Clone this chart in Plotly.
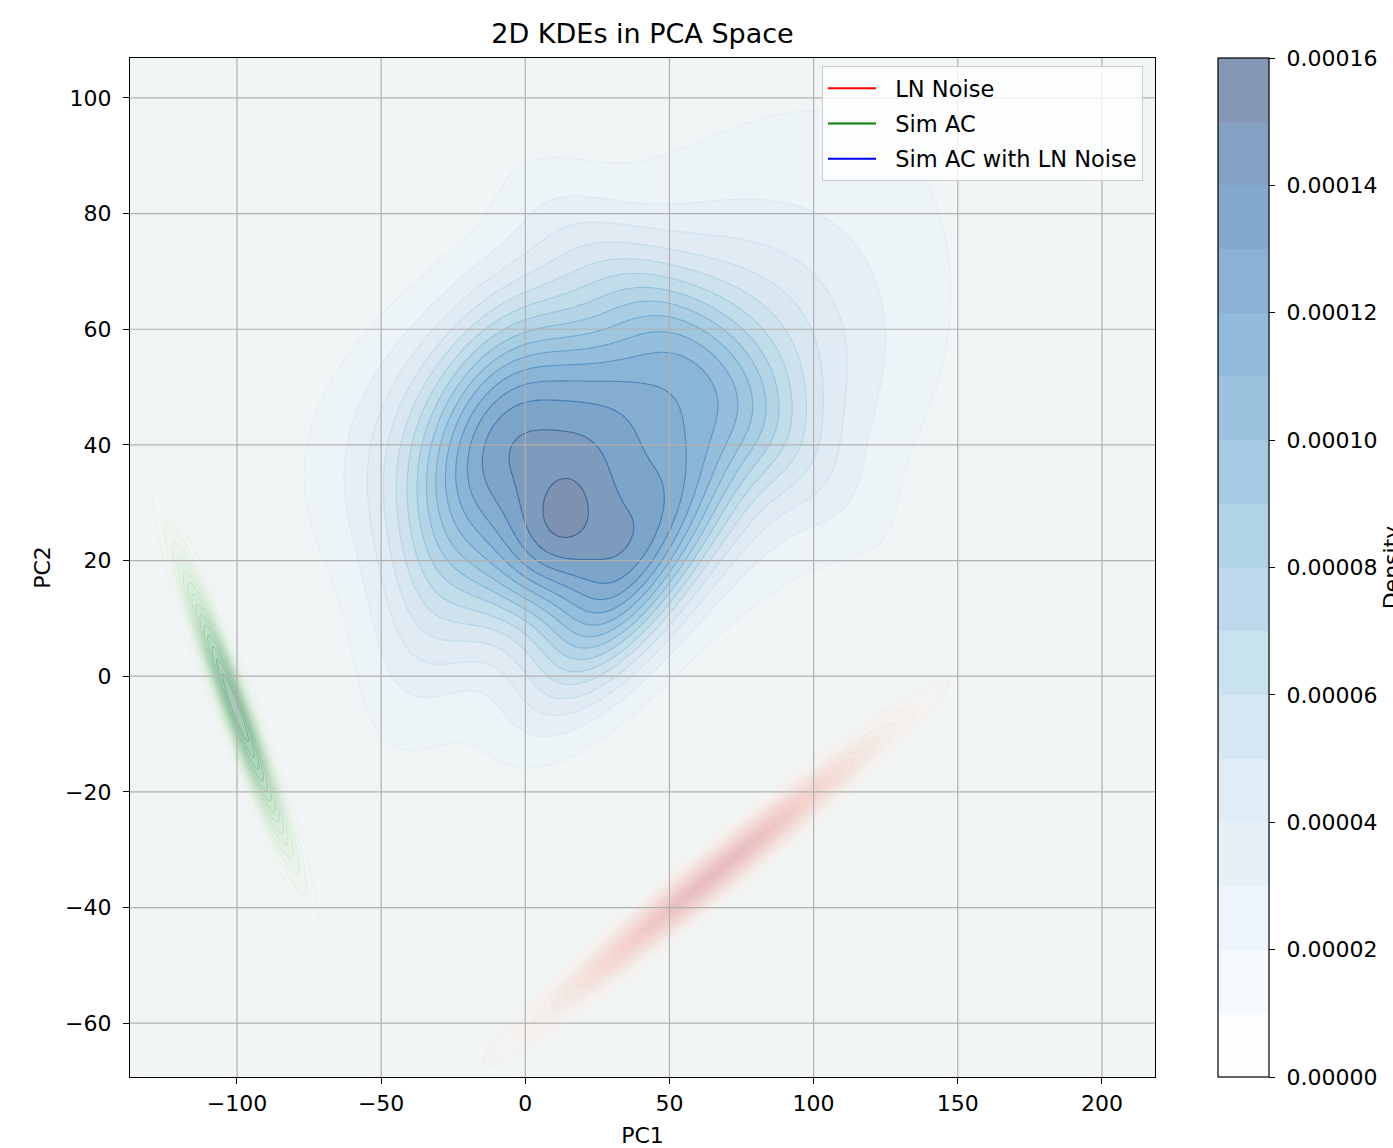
import numpy as np
import plotly.graph_objects as go

# ----------------- values -----------------
title_text = "2D KDEs in PCA Space"
x_label = "PC1"
y_label = "PC2"
cbar_label = "Density"
legend_names = ["LN Noise", "Sim AC", "Sim AC with LN Noise"]
legend_colors = ["red", "green", "blue"]

x_ticks = [-100, -50, 0, 50, 100, 150, 200]
y_ticks = [-60, -40, -20, 0, 20, 40, 60, 80, 100]
cbar_ticks = [0.0, 0.00002, 0.00004, 0.00006, 0.00008, 0.00010, 0.00012, 0.00014, 0.00016]
x_range = [-137.1, 218.4]
y_range = [-69.3, 106.9]

# "Sim AC with LN Noise": points on its density contours (x, y, level)
blue_pts_x = [14.5, 7.0, 22.0, 14.5, 14.5,
              -2.4, 2.8, 21.3, 29.4, 32.8, 34, 28.2, 17.8, 9.7, 0.5, -1.8,
              -8.8, 0.5, 19, 39.8, 45, 45.6, 32.8, -12.2, -9.9, 15,
              -15.7, -20.9, -25.4, -30.3, -34.1, -37.6, -41, -44.5, -48, -53, -63.6, -75.4,
              15, 15, 15, 15, 15, 15, 15, 15, 15, 15, 15, 15,
              15, 15, 15, 15, 15, 15, 15, 15, 15, 15, 15, 15,
              54.7, 61.6, 68.6, 74.5, 80.4, 86, 90.8, 95.3, 99.8, 109, 119.6, 141,
              -76, -76, -68, -59, -45, -25, 0, 35, 49, 78, 107, 134, 148, 140, 146, 130, 75, 49, 26, 0, -28, -50, -68,
              -10, 26,
              26, 49, 60.6, 66.5, 83.8, 99.8, 106.7, 125, 126.5, 120.6, 119.6,
              26, 49, 60.6, 79, 89.4, 96, 100]
blue_pts_y = [29, 29, 29, 33.6, 24.6,
              41.4, 42.9, 39.7, 35.7, 30.5, 25.3, 20.1, 20.1, 21.8, 24.7, 30.5,
              45.5, 48.1, 47.2, 43.2, 37.4, 24.7, 16.6, 39.1, 30.5, 47.8,
              28, 28, 28, 28, 28, 28, 28, 28, 28, 28, 28, 28,
              51, 53.8, 55.9, 58, 60.2, 62.8, 66.8, 70.8, 75, 79, 83, 87.5,
              14.4, 12.3, 10.2, 8.3, 6.2, 4, 1.6, -1.2, -4.6, -9.3, -12, -15,
              40, 40, 40, 40, 40, 40, 40, 40, 40, 40, 40, 40,
              44, 37, 20, 2, -10.5, -14.5, -12.8, -7.6, -1, 10, 22, 42, 52, 62, 77, 86, 94, 90, 88, 84, 72, 60, 52,
              -14, -7,
              83.7, 84.6, 84, 80.6, 80.6, 80, 77, 75, 72, 63.8, 58.7,
              75, 74, 72.5, 70, 68, 63.8, 56]
blue_pts_level = ([1.58e-4] + [1.5e-4] * 4 + [1.4e-4] * 11 + [1.3e-4] * 10 +
                  [1.2e-4, 1.1e-4, 1.0e-4, 9e-5, 8e-5, 7e-5, 6e-5, 5e-5, 4e-5, 3e-5, 2e-5, 1e-5] +
                  [1.2e-4, 1.1e-4, 1.0e-4, 9e-5, 8e-5, 7e-5, 6e-5, 5e-5, 4e-5, 3e-5, 2e-5, 1e-5] +
                  [1.2e-4, 1.1e-4, 1.0e-4, 9e-5, 8e-5, 7e-5, 6e-5, 5e-5, 4e-5, 3e-5, 2e-5, 1e-5] +
                  [1.2e-4, 1.1e-4, 1.0e-4, 9e-5, 8e-5, 7e-5, 6e-5, 5e-5, 4e-5, 3e-5, 2e-5, 1e-5] +
                  [1e-5] * 23 + [1e-5] * 2 + [2e-5] * 11 + [4e-5] * 7)
blue_levels = [0.00001, 0.00015, 0.00001]   # start, end, step
blue_zrange = [0.0, 0.00016]

# "Sim AC": elongated density ridge (centre, axis angle, spreads, peak)
green_cx = [-100.5]
green_cy = [-5.5]
green_angle = [-52.8]
green_sig_major = [20.0]
green_sig_minor = [2.9]
green_amp = [0.0030]
green_levels = [0.0002, 0.0028, 0.0002]

# "LN Noise": elongated density ridge
red_cx = [66.0]
red_cy = [-34.0]
red_angle = [22.1]
red_sig_major = [37.0]
red_sig_minor = [2.6]
red_amp = [0.0016]
red_levels = [0.0001, 0.0015, 0.0001]

# ----------------- helpers -----------------
BLUES = ['#f7fbff', '#deebf7', '#c6dbef', '#9ecae1', '#6baed6', '#4292c6', '#2171b5', '#08519c', '#08306b']
GREENS = ['#f7fcf5', '#e5f5e0', '#c7e9c0', '#a1d99b', '#74c476', '#41ab5d', '#238b45', '#006d2c', '#00441b']
REDS = ['#fff5f0', '#fee0d2', '#fcbba1', '#fc9272', '#fb6a4a', '#ef3b2c', '#cb181d', '#a50f15', '#67000d']
BG = np.array([241.0, 245.0, 245.0])
WHITE = np.array([255.0, 255.0, 255.0])
NBSP = "\u00a0"


def hex2rgb(h):
    h = h.lstrip('#')
    return np.array([int(h[i:i + 2], 16) for i in (0, 2, 4)], dtype=float)


def cmap(hexes, t):
    t = min(max(t, 0.0), 1.0)
    pos = t * (len(hexes) - 1)
    i = min(int(np.floor(pos)), len(hexes) - 2)
    f = pos - i
    return hex2rgb(hexes[i]) * (1 - f) + hex2rgb(hexes[i + 1]) * f


def rgb_str(c, a=1.0):
    r, g, b = [int(round(v)) for v in c]
    return f"rgba({r},{g},{b},{a})"


def band_scale(hexes, nb, alpha, under, tmax=1.0, first=None):
    """opaque colours of a semi-transparent colormap laid over `under`"""
    scale = []
    for k in range(nb):
        t = k / (nb - 1)
        c = cmap(hexes, t * tmax) * alpha + under * (1 - alpha)
        s = rgb_str(c)
        if k == 0 and first is not None:
            s = first
        scale.append([t, s])
    return scale


def ramp_scale(c0, c1, n):
    out = []
    for k in range(n):
        f = k / (n - 1)
        c = [c0[i] * (1 - f) + c1[i] * f for i in range(4)]
        out.append([f, f"rgba({int(round(c[0]))},{int(round(c[1]))},{int(round(c[2]))},{c[3]:.3f})"])
    return out


def gauss_rot(X, Y, cx, cy, ang, smaj, smin, amp):
    a = np.deg2rad(ang)
    u = (X - cx) * np.cos(a) + (Y - cy) * np.sin(a)
    v = -(X - cx) * np.sin(a) + (Y - cy) * np.cos(a)
    return amp * np.exp(-0.5 * ((u / smaj) ** 2 + (v / smin) ** 2))


def n_lines(lv):
    return int(round((lv[1] - lv[0]) / lv[2])) + 1


# ---- smooth density surface through the contour points (least squares, Gaussian kernels) ----
p0 = np.array([
    [1.45, 2.9, np.log(7), np.log(5), 0.0, np.log(1.5e-5)],
    [1.3, 2.9, np.log(32), np.log(18), 0.2, np.log(1.0e-4)],
    [2.0, 5.0, np.log(30), np.log(15), 0.0, np.log(3e-5)],
    [6.5, 3.6, np.log(20), np.log(18), 0.2, np.log(3.5e-5)],
    [11.5, 6.8, np.log(28), np.log(16), 0.0, np.log(1.5e-5)],
    [3.0, 3.8, np.log(55), np.log(28), 0.35, np.log(2.0e-5)],
]).ravel()
SIG_MIN = [5.0, 16.0, 15.0, 15.0, 15.0, 22.0]
tx = np.array(blue_pts_x, float)
ty = np.array(blue_pts_y, float)
tz = np.array(blue_pts_level, float)
tw = np.ones_like(tz)
tw[:26] = 2.0


def mix(p, X, Y):
    P = p.reshape(-1, 6)
    z = np.zeros_like(X, dtype=float)
    for cx, cy, lsx, lsy, q, la in P:
        rho = 0.9 * np.tanh(q)
        dx = (X - cx * 10) / np.exp(lsx)
        dy = (Y - cy * 10) / np.exp(lsy)
        Q = (dx * dx - 2 * rho * dx * dy + dy * dy) / (1 - rho * rho)
        z = z + np.exp(la - 0.5 * Q)
    return z


def resid(p):
    m = mix(p, tx, ty)
    r_lin = tw * (m - tz) / 1e-5
    r_log = 1.5 * (np.log(m + 1e-300) - np.log(tz))
    P = p.reshape(-1, 6)
    pen = []
    for k in range(P.shape[0]):
        for j in (2, 3):
            pen.append(5.0 * max(0.0, np.log(SIG_MIN[k]) - P[k, j]))
    return np.concatenate([r_lin, r_log, 0.1 * (p - p0), np.array(pen)])


def fit(start):
    p = start.copy()
    lam = 1e-2
    r = resid(p)
    cost = r @ r
    for it in range(600):
        J = np.empty((r.size, p.size))
        for j in range(p.size):
            dp = np.zeros_like(p)
            dp[j] = 1e-6
            J[:, j] = (resid(p + dp) - r) / 1e-6
        A = J.T @ J
        g = J.T @ r
        step = -np.linalg.solve(A + lam * (np.diag(np.diag(A)) + 1e-9 * np.eye(p.size)), g)
        pn = p + step
        rn = resid(pn)
        cn = rn @ rn
        if np.isfinite(cn) and cn < cost:
            p, r, cost = pn, rn, cn
            lam = max(lam * 0.4, 1e-7)
        else:
            lam *= 4
            if lam > 1e8:
                break
    return p, cost


best = None
for sscale in (1.0, 1.15, 0.9):
    st = p0.reshape(-1, 6).copy()
    st[:, 2:4] += np.log(sscale)
    pf, cf = fit(st.ravel())
    if best is None or cf < best[1]:
        best = (pf, cf)
p = best[0]

# ----------------- density grids -----------------
bx = np.arange(-140.0, 221.0, 1.0)
by = np.arange(-72.0, 110.5, 0.5)
BX, BY = np.meshgrid(bx, by)
bz = mix(p, BX, BY)

gx = np.arange(-150.0, -50.0, 0.5)
gy = np.arange(-65.0, 50.0, 0.5)
GX, GY = np.meshgrid(gx, gy)
gz = np.zeros_like(GX)
for i in range(len(green_cx)):
    gz += gauss_rot(GX, GY, green_cx[i], green_cy[i], green_angle[i], green_sig_major[i], green_sig_minor[i], green_amp[i])

rx = np.arange(-35.0, 180.0, 0.5)
ry = np.arange(-80.0, 15.0, 0.5)
RX, RY = np.meshgrid(rx, ry)
rz = np.zeros_like(RX)
for i in range(len(red_cx)):
    rz += gauss_rot(RX, RY, red_cx[i], red_cy[i], red_angle[i], red_sig_major[i], red_sig_minor[i], red_amp[i])

FONT = "DejaVu Sans"
fig = go.Figure()
nb_blue = n_lines(blue_levels) + 1
blue_contours = dict(start=blue_levels[0], end=blue_levels[1], size=blue_levels[2])

# colour bar (colours as seen over white); completely hidden under the next trace
fig.add_trace(go.Contour(
    x=bx, y=by, z=bz, autocontour=False, zmin=blue_zrange[0], zmax=blue_zrange[1],
    contours=dict(**blue_contours, coloring='fill', showlines=False),
    colorscale=band_scale(BLUES, nb_blue, 0.5, WHITE), line=dict(width=0),
    showscale=True, showlegend=False, hoverinfo='skip',
    colorbar=dict(
        x=(1218 - 130) / 1025, xanchor='left', xpad=0, ypad=0,
        y=0.5, yanchor='middle', len=1.0, lenmode='fraction',
        thickness=51, outlinewidth=1.2, outlinecolor='black',
        ticks='outside', ticklen=6, tickwidth=1.2, tickcolor='black',
        tickvals=cbar_ticks, ticktext=[NBSP + f"{v:.5f}" for v in cbar_ticks],
        tickfont=dict(family=FONT, size=22, color='black'),
        title=dict(text=cbar_label, side='right', font=dict(family=FONT, size=22, color='black')),
    )))

# Sim AC with LN Noise, filled (colours as seen over the plot background)
fig.add_trace(go.Contour(
    x=bx, y=by, z=bz, autocontour=False, zmin=blue_zrange[0], zmax=blue_zrange[1],
    contours=dict(**blue_contours, coloring='fill', showlines=False),
    colorscale=band_scale(BLUES, nb_blue, 0.5, BG, first=rgb_str(BG)), line=dict(width=0),
    showscale=False, showlegend=False, hoverinfo='skip'))

# blue contour lines, coloured by level
nl = n_lines(blue_levels)
line_scale = []
for k in range(nl):
    line_scale.append([k / (nl - 1), rgb_str(cmap(BLUES, 0.15 + 0.85 * k / (nl - 1)), 0.5)])
fig.add_trace(go.Contour(
    x=bx, y=by, z=bz, autocontour=False,
    contours=dict(**blue_contours, coloring='lines'),
    colorscale=line_scale, line=dict(width=1.1),
    showscale=False, showlegend=False, hoverinfo='skip'))

# Sim AC
nb = n_lines(green_levels) + 1
g_cont = dict(start=green_levels[0], end=green_levels[1], size=green_levels[2])
fig.add_trace(go.Contour(
    x=gx, y=gy, z=gz, autocontour=False,
    contours=dict(**g_cont, coloring='fill', showlines=False),
    colorscale=band_scale(GREENS, nb, 0.35, BG, tmax=0.8, first='rgba(255,255,255,0)'),
    line=dict(width=0), showscale=False, showlegend=False, hoverinfo='skip'))
fig.add_trace(go.Contour(
    x=gx, y=gy, z=gz, autocontour=False,
    contours=dict(**g_cont, coloring='lines'),
    colorscale=ramp_scale((200, 225, 205, 0.25), (70, 140, 95, 0.6), n_lines(green_levels)),
    line=dict(width=0.8), showscale=False, showlegend=False, hoverinfo='skip'))

# LN Noise
nb = n_lines(red_levels) + 1
r_cont = dict(start=red_levels[0], end=red_levels[1], size=red_levels[2])
fig.add_trace(go.Contour(
    x=rx, y=ry, z=rz, autocontour=False,
    contours=dict(**r_cont, coloring='fill', showlines=False),
    colorscale=band_scale(REDS, nb, 0.25, BG, tmax=0.75, first='rgba(255,255,255,0)'),
    line=dict(width=0), showscale=False, showlegend=False, hoverinfo='skip'))
fig.add_trace(go.Contour(
    x=rx, y=ry, z=rz, autocontour=False,
    contours=dict(**r_cont, coloring='lines'),
    colorscale=ramp_scale((245, 215, 210, 0.3), (225, 210, 228, 0.85), n_lines(red_levels)),
    line=dict(width=0.8), showscale=False, showlegend=False, hoverinfo='skip'))

# legend entries
for i, (name, col) in enumerate(zip(legend_names, legend_colors)):
    fig.add_trace(go.Scatter(x=[None], y=[None], mode='lines', name=NBSP * 2 + name,
                             line=dict(color=col, width=2), legendgroup=f"g{i}"))

# grid lines on top of the filled contours
shapes = []
for v in x_ticks:
    shapes.append(dict(type='line', xref='x', yref='paper', x0=v, x1=v, y0=0, y1=1,
                       line=dict(color='#b0b0b0', width=1.2), layer='above'))
for v in y_ticks:
    shapes.append(dict(type='line', xref='paper', yref='y', x0=0, x1=1, y0=v, y1=v,
                       line=dict(color='#b0b0b0', width=1.2), layer='above'))


def fmt(v):
    return f"{v}".replace('-', '\u2212')


axis_common = dict(showline=True, linecolor='black', linewidth=1.2, mirror=True,
                   ticks='outside', ticklen=6, tickwidth=1.2, tickcolor='black',
                   showgrid=False, zeroline=False,
                   tickfont=dict(family=FONT, size=22, color='black'))

fig.update_layout(
    width=1393, height=1148, autosize=False,
    margin=dict(l=130, r=238, t=58, b=71, autoexpand=False),
    paper_bgcolor='white', plot_bgcolor=rgb_str(BG),
    font=dict(family=FONT, size=22, color='black'),
    title=dict(text=title_text, x=0.5, xref='paper', xanchor='center',
               y=1 - 34 / 1148, yref='container', yanchor='middle',
               font=dict(family=FONT, size=27, color='black')),
    xaxis=dict(range=x_range, tickvals=x_ticks, ticktext=[fmt(v) for v in x_ticks],
               title=dict(text=x_label, standoff=14, font=dict(family=FONT, size=22)),
               **axis_common),
    yaxis=dict(range=y_range, tickvals=y_ticks, ticktext=[fmt(v) for v in y_ticks],
               ticklabelstandoff=7,
               title=dict(text=y_label, standoff=8, font=dict(family=FONT, size=22)),
               **axis_common),
    legend=dict(x=(1143 - 130) / 1025, xanchor='right', y=(1077 - 66) / 1019, yanchor='top',
                bgcolor='rgba(255,255,255,0.8)', bordercolor='#cccccc', borderwidth=1,
                font=dict(family=FONT, size=22.5, color='black'),
                tracegroupgap=3, itemwidth=48),
    shapes=shapes,
)

fig.write_html("out.html")
